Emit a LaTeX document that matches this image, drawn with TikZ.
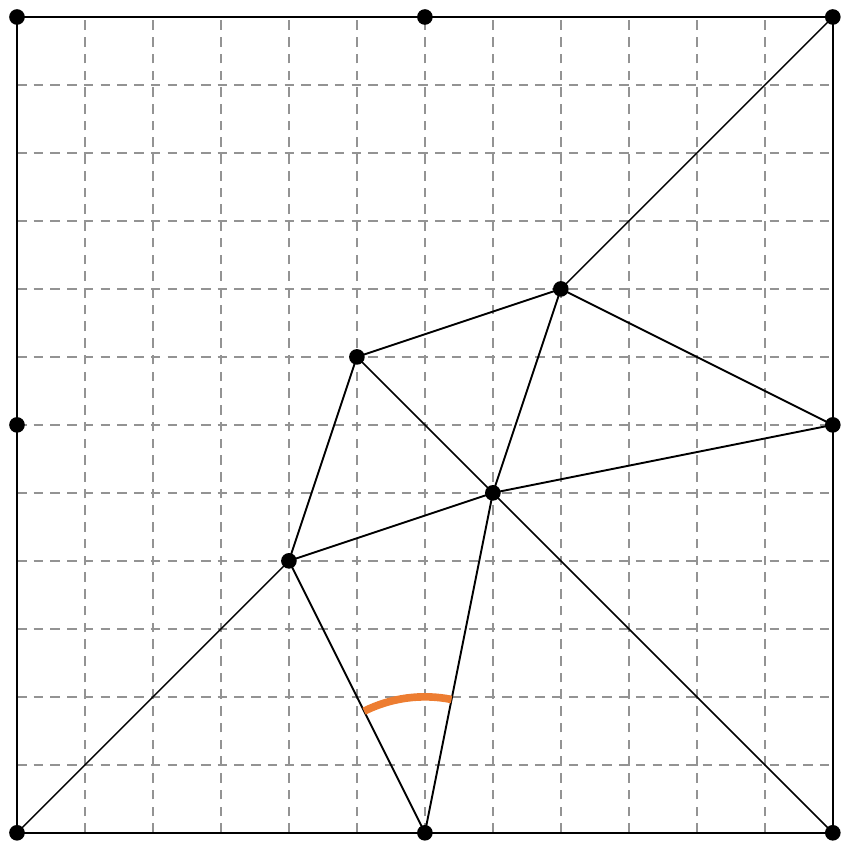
\documentclass[tikz,border=0pt]{standalone}
\usepackage{xcolor}
\usepackage{tikz}
\usetikzlibrary{calc}
\definecolor{laranja}{HTML}{ED7D31}

\begin{document}
\begin{tikzpicture}[
    ponto/.style={circle, fill=black, inner sep=0pt, minimum size=2.3mm},
    grade/.style={draw=gray!85, dashed, dash pattern=on 4pt off 3pt, line width=0.6pt},
    borda/.style={draw, line width=1pt},
    aresta/.style={draw, line width=0.8pt},
    diag/.style={draw, line width=0.6pt},
    angulo/.style={draw=laranja, line width=3.2pt}
]
    \useasboundingbox (-0.25,-0.15) rectangle (12.12,12.25);

    \draw[grade] (0,0) grid (12,12);
    \draw[borda] (0,0) rectangle (12,12);

    \node[ponto] (a) at (0,0)   {};
    \node[ponto] (b) at (6,0)   {};
    \node[ponto] (c) at (12,0)  {};
    \node[ponto] (d) at (0,6)   {};
    \node[ponto] (e) at (12,6)  {};
    \node[ponto] (f) at (0,12)  {};
    \node[ponto] (g) at (6,12)  {};
    \node[ponto] (h) at (12,12) {};

    \node[ponto] (p1) at (4,4) {};
    \node[ponto] (p2) at (5,7) {};
    \node[ponto] (p3) at (8,8) {};
    \node[ponto] (p4) at (7,5) {};

    \draw[diag] (a.center) -- (p1.center);
    \draw[diag] (h.center) -- (p3.center);
    \draw[diag] (p2.center) -- (p4.center);
    \draw[diag] (p4.center) -- (c.center);

    \draw[aresta] (p1.center) -- (p2.center);
    \draw[aresta] (p2.center) -- (p3.center);
    \draw[aresta] (p3.center) -- (e.center);
    \draw[aresta] (p3.center) -- (p4.center);
    \draw[aresta] (p4.center) -- (e.center);
    \draw[aresta] (p1.center) -- (p4.center);
    \draw[aresta] (p1.center) -- (b.center);
    \draw[aresta] (p4.center) -- (b.center);

    \draw[angulo] ($(b)+(116.57:2)$) arc[start angle=116.57, end angle=78.69, radius=2];
\end{tikzpicture}
\end{document}
